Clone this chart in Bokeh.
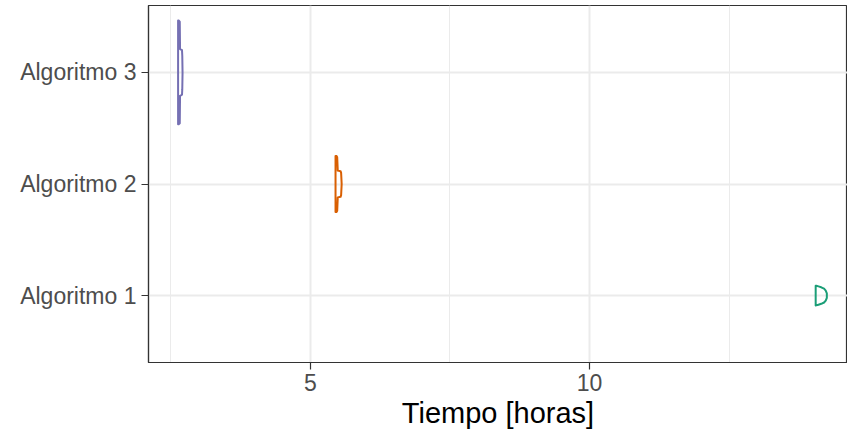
from bokeh.plotting import figure
from bokeh.models import FixedTicker
from bokeh.embed import file_html
from bokeh.resources import INLINE

# Algorithm labels (bottom to top) and their colours
algorithms = ["Algoritmo 1", "Algoritmo 2", "Algoritmo 3"]
colors = ["#1B9E77", "#D95F02", "#7570B3"]

# Violin outlines: run time (hours) and density half-width (in category units)
alg1_time = [14.05, 14.06, 14.10, 14.15, 14.20, 14.23, 14.25, 14.25]
alg1_width = [0.089, 0.088, 0.082, 0.074, 0.062, 0.045, 0.020, 0.0]

alg2_time = [5.45, 5.47, 5.48, 5.49, 5.54, 5.55, 5.56]
alg2_width = [0.25, 0.25, 0.24, 0.12, 0.115, 0.10, 0.0]

alg3_time = [2.63, 2.64, 2.66, 2.665, 2.70, 2.705, 2.71]
alg3_width = [0.465, 0.465, 0.455, 0.21, 0.20, 0.15, 0.0]

times = [alg1_time, alg2_time, alg3_time]
widths = [alg1_width, alg2_width, alg3_width]

x_ticks = [5, 10]
x_minor = [2.5, 7.5, 12.5]
x_label = "Tiempo [horas]"

FONT = "Liberation Sans"

p = figure(width=847, height=435, output_backend="svg", toolbar_location=None,
           x_range=(2.1, 14.62), y_range=(0.4, 3.6),
           min_border_left=148, min_border_right=0, min_border_top=5,
           min_border_bottom=73)

p.background_fill_color = "white"
p.border_fill_color = "white"
p.outline_line_color = "#333333"
p.outline_line_width = 1.2

# Violins
for i, (t, w) in enumerate(zip(times, widths)):
    center = i + 1
    xs = list(t) + list(reversed(t))
    ys = [center + v for v in w] + [center - v for v in reversed(w)]
    p.patch(xs, ys, fill_color="white", fill_alpha=0.0,
            line_color=colors[i], line_width=2, line_join="round")

# Axes
p.xaxis.ticker = FixedTicker(ticks=x_ticks, minor_ticks=x_minor)
p.yaxis.ticker = FixedTicker(ticks=[1, 2, 3])
p.yaxis.major_label_overrides = {i + 1: a for i, a in enumerate(algorithms)}

for ax in (p.xaxis, p.yaxis):
    ax.axis_line_color = "#333333"
    ax.axis_line_width = 1.2
    ax.major_tick_line_color = "#333333"
    ax.major_tick_line_width = 1.2
    ax.major_tick_out = 7
    ax.major_tick_in = 0
    ax.minor_tick_line_color = None
    ax.major_label_text_font = FONT
    ax.major_label_text_font_size = "23px"
    ax.major_label_text_color = "#4D4D4D"

p.yaxis.major_label_standoff = 5
p.xaxis.major_label_standoff = 4
p.xaxis.axis_label = x_label
p.xaxis.axis_label_text_font = FONT
p.xaxis.axis_label_text_font_size = "29px"
p.xaxis.axis_label_text_font_style = "normal"
p.xaxis.axis_label_text_color = "black"
p.xaxis.axis_label_standoff = 3

# Grid lines
p.xgrid.grid_line_color = "#EBEBEB"
p.xgrid.grid_line_width = 2
p.xgrid.minor_grid_line_color = "#EBEBEB"
p.xgrid.minor_grid_line_width = 1
p.ygrid.grid_line_color = "#EBEBEB"
p.ygrid.grid_line_width = 2

open("out.html", "w").write(file_html(p, INLINE))
